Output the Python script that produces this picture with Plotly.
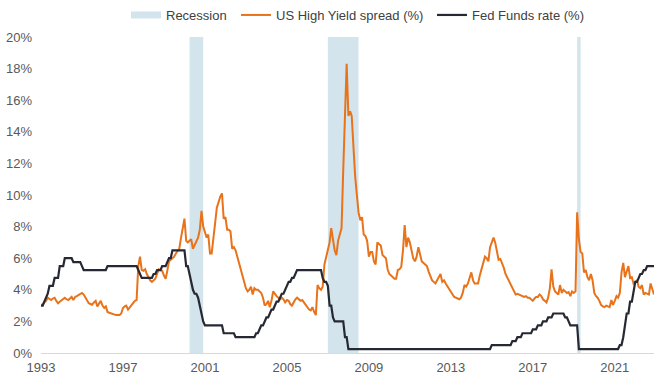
import pandas as pd
import plotly.graph_objects as go

# Monthly month-end observations; first point is 31 Dec 1993 (12 per row)
start_date = "1993-12-31"

hy_rows = [
    [3.0, 3.1, 3.15, 3.3, 3.5, 3.4, 3.35, 3.45, 3.5, 3.3, 3.15, 3.25],
    [3.35, 3.45, 3.5, 3.4, 3.35, 3.45, 3.55, 3.35, 3.55, 3.6, 3.65, 3.7],
    [3.8, 3.7, 3.55, 3.35, 3.15, 3.1, 3.05, 3.2, 3.3, 2.95, 3.15, 3.3],
    [3.0, 2.85, 2.95, 2.6, 2.55, 2.5, 2.45, 2.4, 2.4, 2.4, 2.4, 2.5],
    [2.85, 2.95, 3.0, 2.75, 2.9, 3.05, 3.2, 3.3, 3.35, 5.5, 6.1, 5.25],
    [5.2, 5.3, 5.0, 4.8, 4.6, 4.5, 4.6, 4.7, 5.0, 5.3, 5.25, 5.2],
    [4.9, 4.7, 5.2, 5.8, 5.9, 6.0, 6.1, 6.3, 6.5, 6.6, 7.3, 8.0],
    [8.5, 7.1, 7.0, 7.1, 7.2, 6.6, 6.8, 7.1, 7.3, 7.8, 9.0, 8.0],
    [7.6, 7.3, 7.5, 6.3, 6.3, 7.1, 8.2, 9.2, 9.6, 9.9, 10.1, 8.5],
    [8.6, 7.8, 7.8, 7.7, 6.6, 6.7, 6.5, 6.1, 5.6, 5.2, 4.8, 4.5],
    [4.1, 3.9, 4.0, 4.2, 3.7, 4.1, 4.0, 4.0, 3.9, 3.8, 3.5, 3.0],
    [3.1, 3.3, 2.9, 3.3, 3.9, 3.7, 3.6, 3.5, 3.4, 3.5, 3.4, 3.2],
    [3.35, 3.3, 3.1, 3.0, 3.2, 3.4, 3.5, 3.4, 3.3, 3.35, 3.2, 3.0],
    [2.9, 2.75, 2.7, 2.9, 2.6, 2.4, 4.3, 4.1, 4.0, 4.2, 5.6, 6.0],
    [6.5, 7.0, 7.9, 7.0, 6.5, 6.2, 7.1, 7.5, 7.9, 11.6, 15.5, 18.3],
    [15.0, 15.3, 15.0, 13.0, 11.2, 10.0, 8.9, 8.4, 8.6, 7.5, 7.4, 7.1],
    [6.1, 6.4, 6.4, 5.8, 5.6, 7.0, 6.9, 6.8, 6.2, 6.1, 6.0, 5.3],
    [5.0, 4.9, 4.8, 4.7, 4.7, 5.25, 5.3, 5.45, 6.5, 8.1, 6.7, 7.3],
    [7.0, 6.5, 6.0, 5.8, 6.1, 6.7, 6.2, 5.8, 5.7, 5.6, 5.5, 5.15],
    [4.9, 4.6, 4.5, 4.4, 4.6, 4.8, 5.0, 4.5, 4.6, 4.4, 4.2, 4.1],
    [3.9, 3.7, 3.55, 3.5, 3.5, 3.4, 3.5, 3.8, 4.3, 4.2, 4.4, 4.8],
    [5.1, 4.6, 4.4, 4.4, 4.4, 4.9, 5.3, 5.6, 6.1, 6.0, 5.8, 6.7],
    [7.0, 7.3, 7.0, 6.3, 5.9, 5.95, 5.7, 5.4, 5.0, 4.8, 4.6, 4.4],
    [4.1, 3.9, 3.7, 3.75, 3.7, 3.7, 3.6, 3.55, 3.6, 3.5, 3.5, 3.4],
    [3.3, 3.45, 3.55, 3.55, 3.7, 3.6, 3.4, 3.3, 3.2, 3.5, 4.1, 5.3],
    [4.2, 3.9, 3.8, 3.7, 4.3, 3.8, 4.0, 3.9, 3.8, 3.85, 3.6, 3.9],
    [3.8, 3.9, 8.9, 7.2, 6.4, 6.3, 5.1, 5.25, 4.8, 4.6, 5.0, 4.6],
    [3.8, 3.6, 3.5, 3.3, 3.05, 2.95, 2.9, 3.0, 2.95, 2.9, 3.35, 3.05],
    [3.3, 3.6, 3.5, 3.8, 5.1, 5.7, 4.8, 5.1, 5.5, 4.75, 4.8, 4.4],
    [4.5, 4.6, 4.2, 4.1, 4.3, 3.7, 3.8, 3.75, 3.7, 4.4, 4.0, 3.7],
]
hy_spread = [v for row in hy_rows for v in row]

fed_funds = (
    [3.0]
    + [3.0, 3.25, 3.5, 3.75, 4.25, 4.25, 4.25, 4.75, 4.75, 4.75, 5.5, 5.5]
    + [5.5, 6.0, 6.0, 6.0, 6.0, 6.0, 5.75, 5.75, 5.75, 5.75, 5.75, 5.5]
    + [5.25] * 12
    + [5.25, 5.25] + [5.5] * 10
    + [5.5] * 8 + [5.25, 5.0, 4.75, 4.75]
    + [4.75] * 5 + [5.0, 5.0, 5.25, 5.25, 5.25, 5.5, 5.5]
    + [5.5, 5.75, 6.0, 6.0] + [6.5] * 8
    + [5.5, 5.5, 5.0, 4.5, 4.0, 3.75, 3.75, 3.5, 3.0, 2.5, 2.0, 1.75]
    + [1.75] * 10 + [1.25, 1.25]
    + [1.25] * 5 + [1.0] * 7
    + [1.0] * 5 + [1.25, 1.25, 1.5, 1.75, 1.75, 2.0, 2.25]
    + [2.25, 2.5, 2.75, 2.75, 3.0, 3.25, 3.25, 3.5, 3.75, 3.75, 4.0, 4.25]
    + [4.5, 4.5, 4.75, 4.75, 5.0] + [5.25] * 7
    + [5.25] * 8 + [4.75, 4.5, 4.5, 4.25]
    + [3.0, 3.0, 2.25, 2.0, 2.0, 2.0, 2.0, 2.0, 2.0, 1.0, 1.0, 0.25]
    + [0.25] * 72
    + [0.25] * 11 + [0.5]
    + [0.5] * 11 + [0.75]
    + [0.75, 0.75, 1.0, 1.0, 1.0, 1.25, 1.25, 1.25, 1.25, 1.25, 1.25, 1.5]
    + [1.5, 1.5, 1.75, 1.75, 1.75, 2.0, 2.0, 2.0, 2.25, 2.25, 2.25, 2.5]
    + [2.5] * 6 + [2.25, 2.25, 2.0, 1.75, 1.75, 1.75]
    + [1.75, 1.75] + [0.25] * 10
    + [0.25] * 12
    + [0.25, 0.25, 0.5, 0.5, 1.0, 1.75, 2.5, 2.5, 3.25, 3.25, 4.0, 4.5]
    + [4.5, 4.75, 5.0, 5.0, 5.25, 5.25, 5.5, 5.5, 5.5, 5.5, 5.5]
)

n = min(len(hy_spread), len(fed_funds))
hy_spread = hy_spread[:n]
fed_funds = fed_funds[:n]
dates = pd.date_range(start_date, periods=n, freq="ME")

recession_start = ["2001-03-31", "2007-12-31", "2020-02-29"]
recession_end = ["2001-11-30", "2009-06-30", "2020-04-30"]

series_names = ["Recession", "US High Yield spread (%)", "Fed Funds rate (%)"]

tick_years = [1993, 1997, 2001, 2005, 2009, 2013, 2017, 2021]
tick_labels = [str(y) for y in tick_years]
tick_dates = [f"{y}-12-31" for y in tick_years]

y_ticks = [0, 2, 4, 6, 8, 10, 12, 14, 16, 18, 20]
y_tick_labels = [f"{v}%" for v in y_ticks]

BAND = "#d3e4ec"
ORANGE = "#e8731a"
DARK = "#262933"
FONT = "Liberation Sans, Arial, sans-serif"
W, H = 660, 379

fig = go.Figure()

for s, e in zip(recession_start, recession_end):
    fig.add_vrect(x0=s, x1=e, fillcolor=BAND, opacity=1, line_width=0, layer="below")

fig.add_trace(go.Scatter(
    x=[None], y=[None], mode="lines", name=series_names[0], legend="legend",
    line=dict(color=BAND, width=7),
))
fig.add_trace(go.Scatter(
    x=dates, y=hy_spread, mode="lines", name=series_names[1], legend="legend2",
    line=dict(color=ORANGE, width=2),
))
fig.add_trace(go.Scatter(
    x=dates, y=fed_funds, mode="lines", name=series_names[2], legend="legend3",
    line=dict(color=DARK, width=2.2),
))


def legend_box(left_px):
    return dict(
        orientation="h", xref="container", yref="container",
        x=left_px / W, xanchor="left", y=1 - 15 / H, yanchor="middle",
        font=dict(family=FONT, size=13, color="#404040"),
        itemwidth=30, bgcolor="rgba(0,0,0,0)", borderwidth=0,
    )


fig.update_layout(
    width=W, height=H,
    margin=dict(l=41, r=6, t=37, b=26),
    paper_bgcolor="white", plot_bgcolor="white",
    font=dict(family=FONT, size=13, color="#595959"),
    showlegend=True,
    legend=legend_box(126),
    legend2=legend_box(236),
    legend3=legend_box(432),
)

fig.update_xaxes(
    type="date",
    range=[dates[0], dates[-1]],
    tickvals=tick_dates, ticktext=tick_labels,
    showgrid=False, zeroline=False,
    showline=True, linecolor="#d9d9d9", linewidth=1,
    ticks="", ticklabelstandoff=2, automargin=False,
    tickfont=dict(family=FONT, size=13, color="#595959"),
)
fig.update_yaxes(
    range=[0, 20], tickvals=y_ticks, ticktext=y_tick_labels,
    showgrid=False, zeroline=False, showline=False,
    ticks="", ticklabelstandoff=8, automargin=False,
    tickfont=dict(family=FONT, size=13, color="#595959"),
)

fig.write_html(
    "out.html",
    config={"displayModeBar": False},
    post_script="document.body.style.margin='0';document.body.style.padding='0';",
)
